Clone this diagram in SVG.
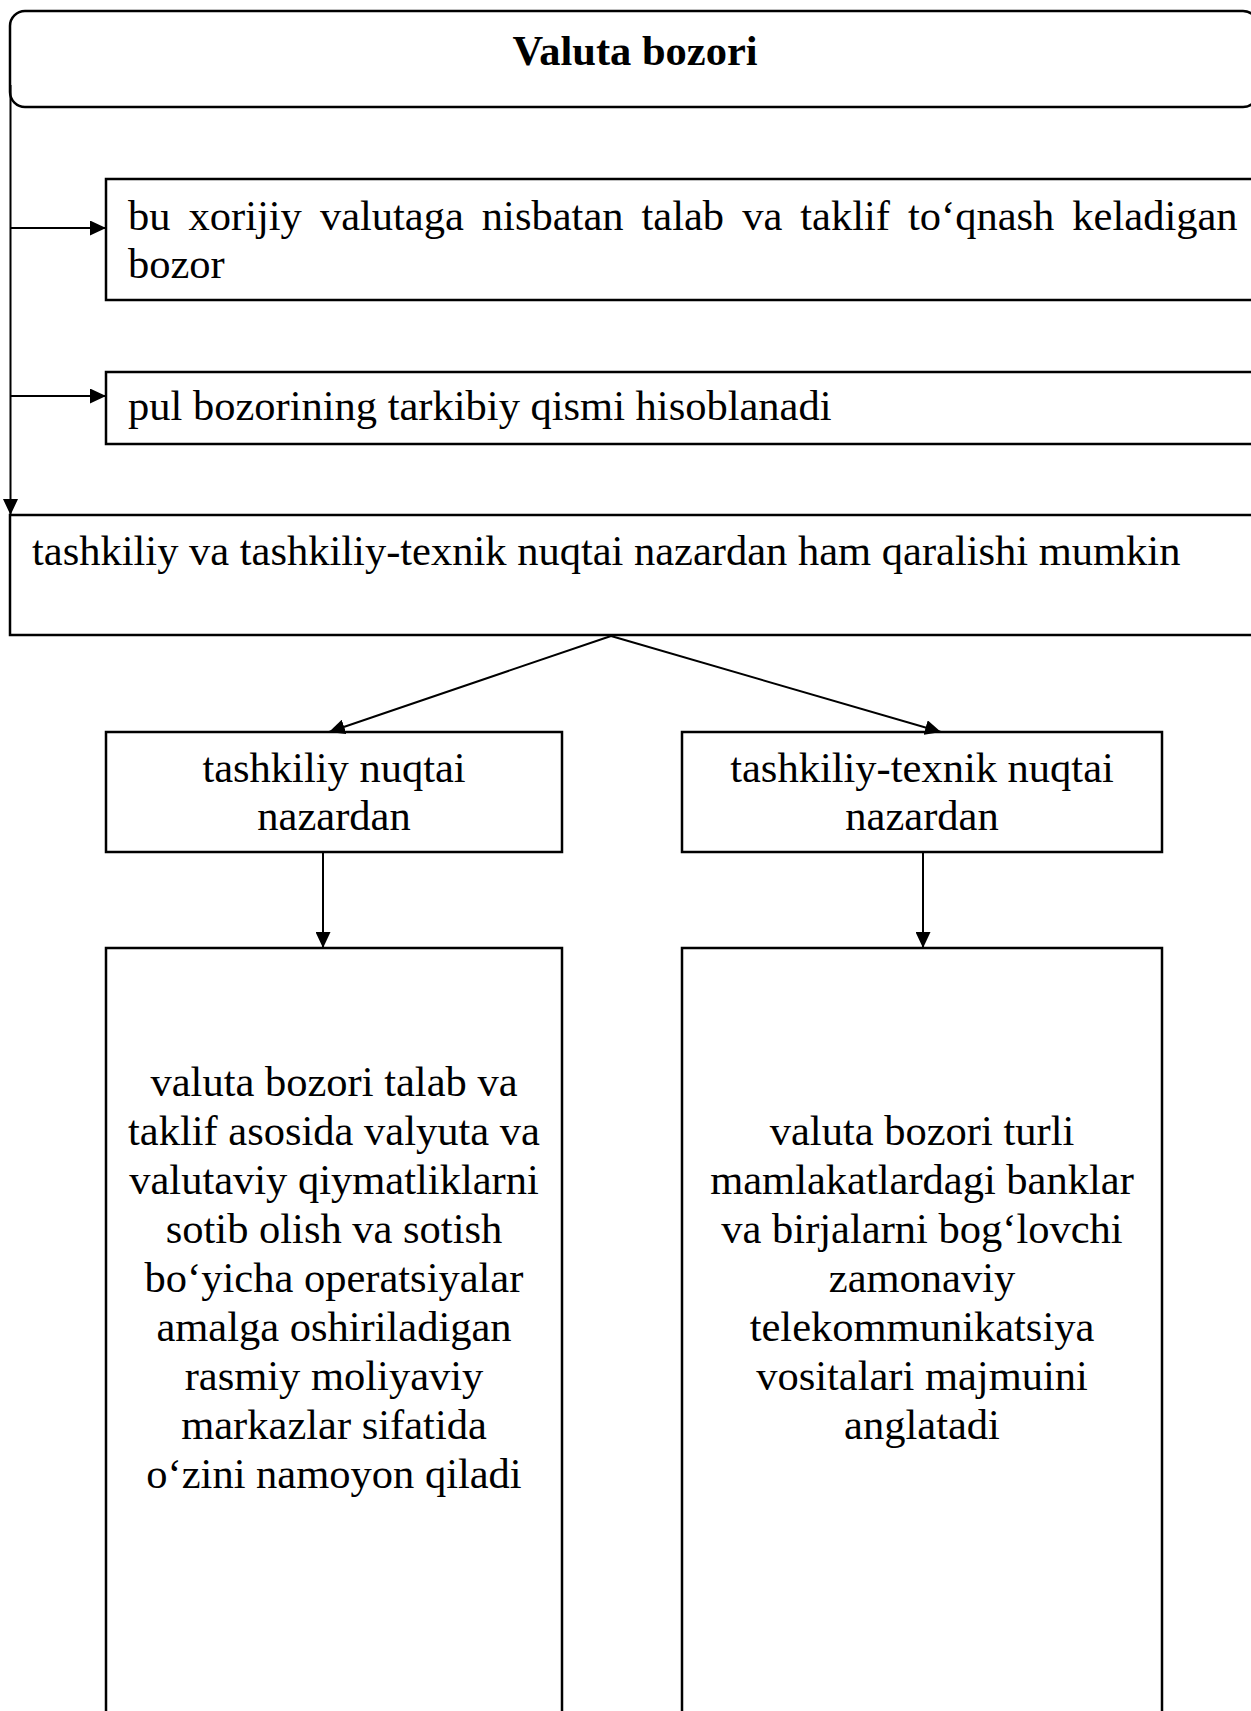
<svg xmlns="http://www.w3.org/2000/svg" width="1251" height="1711" viewBox="0 0 1251 1711">
<defs>
<style>
.box{fill:#fff;stroke:#000;stroke-width:2.5}
.ln{fill:none;stroke:#000;stroke-width:2}
.t{font-family:"Liberation Serif","Times New Roman",serif;font-size:42.5px;fill:#000}
.c{text-anchor:middle}
.b{font-weight:bold}
</style>
<marker id="ah" markerWidth="16" markerHeight="15" refX="16" refY="7.5" orient="auto" markerUnits="userSpaceOnUse">
<path d="M0,0 L16,7.5 L0,15 Z" fill="#000"/>
</marker>
</defs>
<rect width="1251" height="1711" fill="#fff"/>
<g id="node-title">
<rect class="box" x="10" y="11" width="1248" height="96" rx="15" ry="15"/>
<text class="t c b" x="635" y="65">Valuta bozori</text>
</g>
<g id="node-def1">
<rect class="box" x="106" y="179" width="1160" height="121"/>
<text class="t" x="128" y="230" word-spacing="7.4">bu xorijiy valutaga nisbatan talab va taklif to‘qnash keladigan</text>
<text class="t" x="128" y="278">bozor</text>
</g>
<g id="node-def2">
<rect class="box" x="106" y="372" width="1160" height="72"/>
<text class="t" x="128" y="420">pul bozorining tarkibiy qismi hisoblanadi</text>
</g>
<g id="node-def3">
<rect class="box" x="10" y="515" width="1256" height="120"/>
<text class="t" x="32" y="565">tashkiliy va tashkiliy-texnik nuqtai nazardan ham qaralishi mumkin</text>
</g>
<g id="node-org">
<rect class="box" x="106" y="732" width="456" height="120"/>
<text class="t c" x="334" y="782">tashkiliy nuqtai</text>
<text class="t c" x="334" y="830">nazardan</text>
</g>
<g id="node-tech">
<rect class="box" x="682" y="732" width="480" height="120"/>
<text class="t c" x="922" y="782">tashkiliy-texnik nuqtai</text>
<text class="t c" x="922" y="830">nazardan</text>
</g>
<g id="node-org-desc">
<rect class="box" x="106" y="948" width="456" height="800"/>
<text class="t c" x="334" y="1096">valuta bozori talab va</text>
<text class="t c" x="334" y="1145">taklif asosida valyuta va</text>
<text class="t c" x="334" y="1194">valutaviy qiymatliklarni</text>
<text class="t c" x="334" y="1243">sotib olish va sotish</text>
<text class="t c" x="334" y="1292">bo‘yicha operatsiyalar</text>
<text class="t c" x="334" y="1341">amalga oshiriladigan</text>
<text class="t c" x="334" y="1390">rasmiy moliyaviy</text>
<text class="t c" x="334" y="1439">markazlar sifatida</text>
<text class="t c" x="334" y="1488">o‘zini namoyon qiladi</text>
</g>
<g id="node-tech-desc">
<rect class="box" x="682" y="948" width="480" height="800"/>
<text class="t c" x="922" y="1145">valuta bozori turli</text>
<text class="t c" x="922" y="1194">mamlakatlardagi banklar</text>
<text class="t c" x="922" y="1243">va birjalarni bog‘lovchi</text>
<text class="t c" x="922" y="1292">zamonaviy</text>
<text class="t c" x="922" y="1341">telekommunikatsiya</text>
<text class="t c" x="922" y="1390">vositalari majmuini</text>
<text class="t c" x="922" y="1439">anglatadi</text>
</g>
<g id="connectors">
<line class="ln" x1="10.5" y1="85" x2="10.5" y2="515" marker-end="url(#ah)"/>
<line class="ln" x1="10.5" y1="228" x2="106" y2="228" marker-end="url(#ah)"/>
<line class="ln" x1="10.5" y1="396" x2="106" y2="396" marker-end="url(#ah)"/>
<line class="ln" x1="611" y1="636" x2="329" y2="732" marker-end="url(#ah)"/>
<line class="ln" x1="611" y1="636" x2="941" y2="732" marker-end="url(#ah)"/>
<line class="ln" x1="323" y1="852" x2="323" y2="948" marker-end="url(#ah)"/>
<line class="ln" x1="923" y1="852" x2="923" y2="948" marker-end="url(#ah)"/>
</g>
</svg>
